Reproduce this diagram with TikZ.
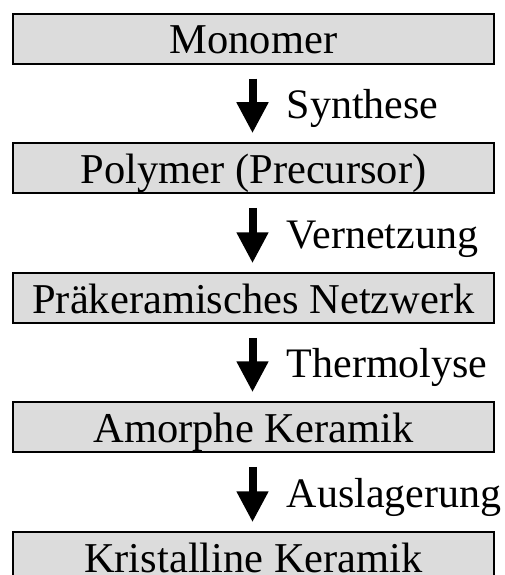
\documentclass[tikz,border=0pt]{standalone}
\usepackage{fontspec}
\setmainfont{Liberation Serif}
\usetikzlibrary{arrows.meta,calc}
\definecolor{boxgray}{RGB}{220,220,220}
\tikzset{
  stage/.style={draw=black, line width=1.5pt, fill=boxgray, minimum width=481pt,
    minimum height=50pt, inner sep=0pt, text height=30pt, text depth=0pt,
    font=\fontsize{42.5}{42.5}\selectfont},
  procarrow/.style={line width=8pt, -{Triangle[width=30pt,length=31pt]},
    shorten <=14pt, shorten >=9pt},
  steplabel/.style={anchor=base west, inner sep=0pt, font=\fontsize{42}{42}\selectfont}
}
\begin{document}
\begin{tikzpicture}[x=1pt,y=1pt]
  \useasboundingbox (0,0) rectangle (505,-575);
  % process stages
  \node[stage] (s1) at (253.5,-39)  {Monomer};
  \node[stage] (s2) at (253.5,-168) {Polymer (Precursor)};
  \node[stage] (s3) at (253.5,-298) {Präkeramisches Netzwerk};
  \node[stage] (s4) at (253.5,-427) {Amorphe Keramik};
  \node[stage] (s5) at (253.5,-557) {Kristalline Keramik};
  % transitions with their labels
  \foreach \a/\b/\lab in {s1/s2/Synthese, s2/s3/Vernetzung, s3/s4/Thermolyse, s4/s5/Auslagerung}{
    \draw[procarrow] ([xshift=-1pt]\a.south) -- ([xshift=-1pt]\b.north);
    \coordinate (\a-mid) at ($(\a.south)!0.5!(\b.north)$);
    \node[steplabel] (\a-lab) at ($(\a-mid)+(33,-15)$) {\lab};
  }
\end{tikzpicture}
\end{document}
